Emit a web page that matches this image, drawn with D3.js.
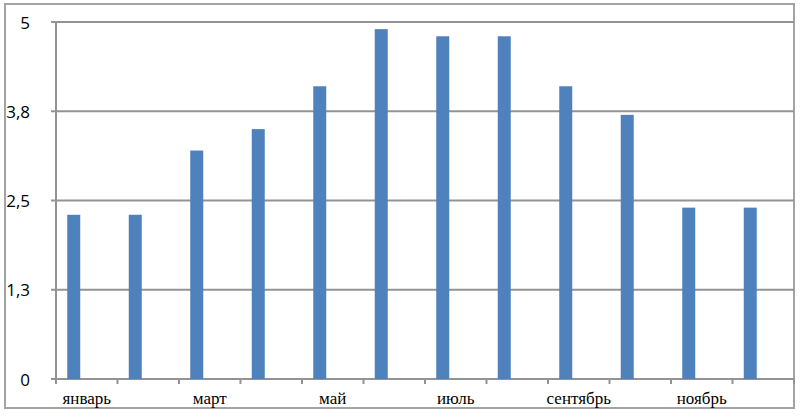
<!DOCTYPE html>
<html><head><meta charset="utf-8">
<script src="https://cdn.jsdelivr.net/npm/d3@7"></script>
<style>html,body{margin:0;padding:0;background:#fff;}</style>
</head><body>
<svg id="chart" width="800" height="417"></svg>
<script>
const months = ["январь","февраль","март","апрель","май","июнь","июль","август","сентябрь","октябрь","ноябрь","декабрь"];
const values = [2.3, 2.3, 3.2, 3.5, 4.1, 4.9, 4.8, 4.8, 4.1, 3.7, 2.4, 2.4];
const seriesSlots = ["Ряд1","Ряд2","Ряд3"];
const yTicks = [0, 1.25, 2.5, 3.75, 5];
const yTickLabels = ["0","1,3","2,5","3,8","5"];

const svg = d3.select("#chart");
const m = {left:56, right:794, top:22, bottom:379};
const gridColor = "#939393";

// outer frame
svg.append("rect").attr("x",5).attr("y",4).attr("width",789).attr("height",404)
  .attr("fill","#fff").attr("stroke","#a3a3a3").attr("stroke-width",2);

const x = d3.scaleBand().domain(months).range([m.left, m.right]).padding(0);
const gapRatio = 0.865;
const xs = d3.scaleBand().domain(seriesSlots).range([0, x.bandwidth()])
  .paddingInner(0).paddingOuter(gapRatio);
const y = d3.scaleLinear().domain([0,5]).range([m.bottom, m.top]);

// gridlines with left tick extension
svg.append("g").selectAll("line").data(yTicks).join("line")
  .attr("x1", m.left-5).attr("x2", m.right)
  .attr("y1", d=>y(d)).attr("y2", d=>y(d))
  .attr("stroke", gridColor).attr("stroke-width", 2);

// y axis line
svg.append("line").attr("x1",m.left).attr("x2",m.left)
  .attr("y1",y(5)).attr("y2",y(0)+4)
  .attr("stroke",gridColor).attr("stroke-width",2);

// y labels
svg.append("g").selectAll("text").data(yTicks).join("text")
  .attr("x", 30).attr("y", d=>y(d))
  .attr("text-anchor","end").attr("dominant-baseline","central")
  .attr("font-family","'Open Sans', sans-serif").attr("font-size",17)
  .attr("fill","#000")
  .text((d,i)=>yTickLabels[i]);

// x tick marks at category boundaries
const boundaries = months.map(c=>x(c)).concat([m.right]);
svg.append("g").selectAll("line").data(boundaries).join("line")
  .attr("x1", d=>d).attr("x2", d=>d)
  .attr("y1", m.bottom).attr("y2", m.bottom+5)
  .attr("stroke", gridColor).attr("stroke-width", 2);

// bars (first series slot)
svg.append("g").selectAll("rect").data(values).join("rect")
  .attr("x", (d,i)=>x(months[i]) + xs(seriesSlots[0]))
  .attr("width", xs.bandwidth())
  .attr("y", d=>y(d))
  .attr("height", d=>y(0)-y(d))
  .attr("fill","#4f81bd");

// x labels (every other category)
svg.append("g").selectAll("text").data(months).join("text")
  .attr("x", d=>x(d)+x.bandwidth()/2)
  .attr("y", 404)
  .attr("text-anchor","middle")
  .attr("font-family","'Liberation Serif', 'Times New Roman', serif")
  .attr("font-size",17).attr("fill","#000")
  .text((d,i)=> i%2===0 ? d : "");
</script>
</body></html>
